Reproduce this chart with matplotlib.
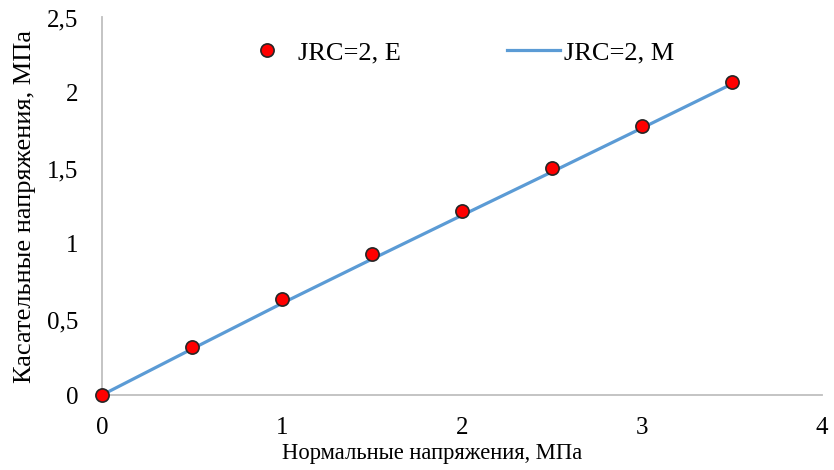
import matplotlib
matplotlib.use("Agg")
import matplotlib.pyplot as plt
from matplotlib.lines import Line2D

sigma = [0, 0.5, 1, 1.5, 2, 2.5, 3, 3.5]
tau_exp = [0, 0.315, 0.636, 0.937, 1.219, 1.502, 1.784, 2.074]
tau_model = [0, 0.305, 0.607, 0.900, 1.190, 1.478, 1.768, 2.060]
xticks = [0, 1, 2, 3, 4]
yticks = [0, 0.5, 1, 1.5, 2, 2.5]
ytick_labels = ["0", "0,5", "1", "1,5", "2", "2,5"]
xlabel = "Нормальные напряжения, МПа"
ylabel = "Касательные напряжения, МПа"
label_exp = "JRC=2, E"
label_model = "JRC=2, M"

plt.rcParams['font.family'] = ['Liberation Serif', 'DejaVu Serif']
fs = 18

fig = plt.figure(figsize=(8.34, 4.70), dpi=100)
ax = fig.add_axes([102/834, 75/470, 720/834, 377.5/470])

ax.plot(sigma, tau_model, color='#5B9BD5', lw=2.3, zorder=2, solid_capstyle='round')
ax.plot(sigma, tau_exp, ls='none', marker='o', ms=9.5, mfc='#FF0000', mec='#262626',
        mew=1.2, zorder=3, clip_on=False)

ax.set_xlim(0, 4)
ax.set_ylim(0, 2.5)
ax.set_xticks(xticks)
ax.set_xticklabels([str(v) for v in xticks])
ax.set_yticks(yticks)
ax.set_yticklabels(ytick_labels)
ax.tick_params(length=0, labelsize=fs, colors='black')
ax.tick_params(axis='x', pad=16)
ax.tick_params(axis='y', pad=17)
for s in ['top', 'right']:
    ax.spines[s].set_visible(False)
for s in ['left', 'bottom']:
    ax.spines[s].set_color('#BFBFBF')
    ax.spines[s].set_linewidth(1.3)

ax.set_xlabel(xlabel, fontsize=16.3)
ax.xaxis.set_label_coords(0.458, -0.126)
ax.set_ylabel(ylabel, fontsize=19, labelpad=8)

handles = [
    Line2D([], [], ls='none', marker='o', ms=9.5, mfc='#FF0000', mec='#262626', mew=1.2),
    Line2D([], [], color='#5B9BD5', lw=2.3),
]
ax.legend(handles, [label_exp, label_model], loc='upper center', bbox_to_anchor=(0.494, 1.0),
          ncol=2, frameon=False, fontsize=19, columnspacing=4.0, handlelength=2.0,
          handletextpad=0.18)

fig.savefig("out.png", dpi=100)
